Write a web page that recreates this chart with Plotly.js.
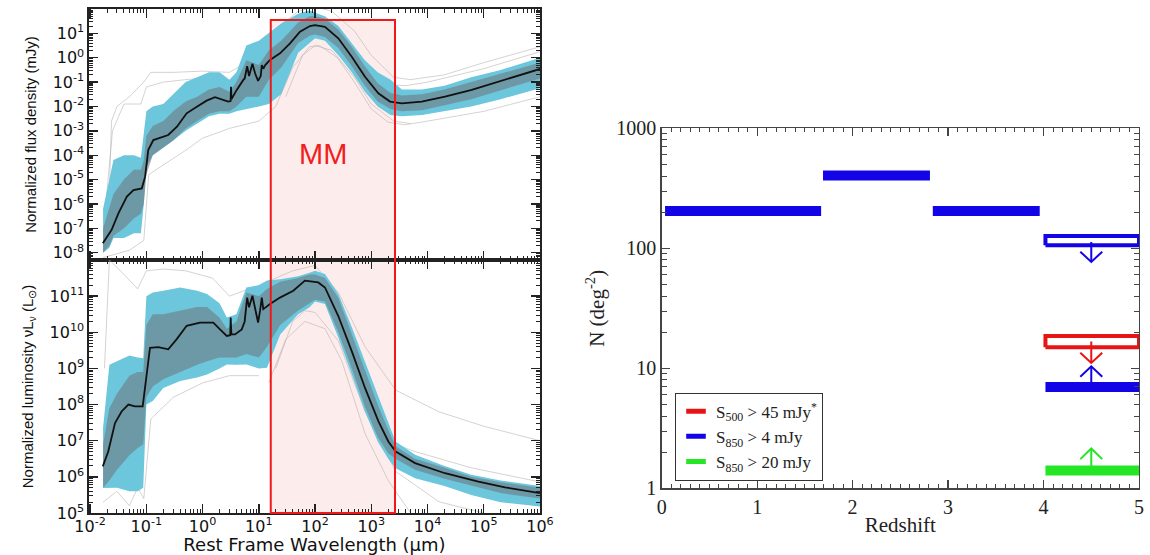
<!DOCTYPE html>
<html><head><meta charset="utf-8">
<script src="https://cdn.plot.ly/plotly-3.0.1.min.js"></script>
<style>html,body{margin:0;padding:0;background:#fff}#chart{width:1150px;height:555px}</style>
</head><body><div id="chart"></div>
<script>
// ================= LEFT PANELS: SED templates (wavelength in micron; values stored as log10) =================
// Top panel: normalized flux density (mJy) - median template
const wlFluxMedian = [0.0168,0.024,0.032,0.045,0.059,0.083,0.095,0.108,0.133,0.19,0.245,0.35,0.52,0.79,1.18,1.66,2.33,2.86,3.15,3.2,3.27,4.05,5.3,5.6,6.2,6.7,7.7,8.6,9.7,10.8,11.3,12,13,15.8,23.8,35.9,54,81,100,150,259,449,773,1334,2153,3475,7890,20460,61100,181600,412000,816000,1000000];
const fluxMedianLog = [-7.61,-7.07,-6.38,-5.70,-5.43,-5.36,-4.88,-3.79,-3.38,-3.24,-3.17,-2.83,-2.28,-2.01,-1.76,-1.62,-1.73,-1.80,-1.78,-1.19,-1.70,-1.32,-0.91,-0.85,-0.35,-0.75,-0.25,-0.65,-0.95,-0.75,-0.30,-0.45,-0.30,-0.09,0.18,0.59,1.07,1.30,1.34,1.27,0.80,0.04,-0.78,-1.46,-1.80,-1.87,-1.80,-1.60,-1.32,-0.98,-0.71,-0.50,-0.46];
// Top panel envelopes
const wlFluxBand = [0.017,0.022,0.026,0.04,0.06,0.08,0.09,0.1,0.13,0.2,0.3,0.5,0.8,1.3,2.0,3.0,4.0,6.0,10,15,25,50,80,100,150,260,450,770,1300,2200,3500,8000,2e4,6e4,2e5,1e6];
const fluxCyanUpLog = [-6.2,-5.0,-4.2,-4.0,-4.0,-4.1,-3.0,-2.2,-2.0,-1.9,-1.5,-1.0,-0.8,-0.6,-0.6,-0.9,-0.6,0.5,0.7,1.0,1.4,1.8,1.95,1.85,1.7,1.3,0.6,-0.1,-0.6,-0.9,-1.3,-1.3,-1.15,-0.8,-0.5,0.0];
const fluxCyanLoLog = [-8.0,-7.8,-7.4,-7.4,-7.2,-7.2,-6.0,-4.5,-4.0,-3.7,-3.4,-3.0,-2.7,-2.4,-2.3,-2.3,-2.2,-2.1,-2.0,-1.9,-1.5,0.2,0.6,0.8,0.7,0.1,-0.6,-1.4,-2.0,-2.35,-2.4,-2.35,-2.2,-2.0,-1.7,-1.25];
const fluxGrayUpLog = [-7.0,-6.2,-5.6,-5.0,-4.6,-4.6,-4.2,-3.2,-2.8,-2.6,-2.2,-1.8,-1.6,-1.3,-1.2,-1.4,-1.0,-0.1,-0.3,0.3,0.7,1.45,1.7,1.7,1.6,1.15,0.45,-0.35,-1.05,-1.45,-1.55,-1.5,-1.3,-1.0,-0.65,-0.2];
const fluxGrayLoLog = [-8.0,-7.7,-7.3,-7.0,-6.6,-6.4,-6.0,-4.8,-4.0,-3.7,-3.4,-2.9,-2.6,-2.3,-2.2,-2.2,-2.0,-1.6,-1.6,-0.9,-0.4,0.6,0.9,0.95,0.85,0.4,-0.35,-1.15,-1.8,-2.1,-2.2,-2.15,-1.95,-1.7,-1.35,-0.85];
// Top panel individual outlier templates
const wlFluxOut1 = [0.021,0.024,0.03,0.05,0.09,0.12,0.3,1,3,6,10,20,50,100,200,500,1000,2500,5000,2e4,1e5,1e6];
const fluxOut1Log = [-7.0,-2.6,-2.0,-1.6,-1.0,-0.6,-0.6,-0.55,-0.6,-0.2,0.5,1.2,1.9,2.1,1.9,1.1,0.1,-0.8,-0.9,-0.7,-0.2,0.45];
const wlFluxOut2 = [0.017,0.05,0.09,0.11,0.2,0.5,1,3,10,20,40,80,120,250,500,1000,2000,4000,1e4,1e5,1e6];
const fluxOut2Log = [-8.2,-7.9,-7.5,-4.8,-4.4,-3.8,-3.3,-2.9,-2.6,-2.0,-0.4,0.45,0.5,0.0,-1.0,-2.1,-2.65,-2.75,-2.6,-2.2,-1.6];
const wlFluxOut3 = [0.019,0.025,0.04,0.08,0.1,0.2,0.5,1.5,3,6];
const fluxOut3Log = [-6.0,-3.0,-1.9,-1.9,-1.2,-1.0,-0.9,-0.8,-1.0,-0.5];
const wlFluxOut4 = [2000,4000,1e4,1e5,1e6];
const fluxOut4Log = [-1.1,-1.15,-1.0,-0.45,0.25];
const wlFluxOut5 = [30,60,100,200,500,1000,2500,5000];
const fluxOut5Log = [-1.6,0.1,0.5,0.3,-0.8,-1.9,-2.6,-2.7];

// Bottom panel: normalized luminosity nuL_nu (L_sun) - median template
const wlLumMedian = [0.0168,0.021,0.0277,0.0363,0.0479,0.0628,0.0861,0.0986,0.116,0.163,0.245,0.347,0.521,0.9,1.55,2.04,2.69,3.1,3.16,3.25,3.77,4.97,5.6,6.2,6.7,7.7,8.6,9.7,10.5,11.3,12,15.8,23.8,41,66,114,150,259,449,773,1334,2009,2716,6000,20460,80200,238800,871000,1000000];
const lumMedianLog = [6.29,6.70,7.49,7.81,8.00,7.95,7.95,8.65,9.57,9.59,9.53,9.81,10.18,10.27,10.27,10.08,9.90,9.92,10.41,9.94,9.94,10.08,10.3,10.96,10.69,11.01,10.64,10.27,10.59,10.96,10.64,10.78,10.96,11.15,11.43,11.38,11.24,10.45,9.48,8.46,7.54,6.98,6.70,6.38,6.10,5.87,5.71,5.57,5.55];
const wlLumBand = [0.017,0.022,0.03,0.05,0.07,0.088,0.1,0.13,0.2,0.4,0.8,1.2,2.0,2.7,4.0,6.0,10,14,24,50,80,100,150,260,450,770,1300,2000,2700,6000,2e4,6e4,2e5,1e6];
const lumCyanUpLog = [7.36,9.1,9.2,9.36,9.3,9.28,11.0,11.1,11.15,11.24,11.15,11.06,10.8,10.41,10.5,11.24,11.3,11.43,11.47,11.55,11.65,11.7,11.61,11.06,10.14,9.2,8.28,7.5,6.98,6.61,6.3,6.06,5.9,5.75];
const lumCyanLoLog = [5.69,5.7,5.7,5.6,5.6,5.7,8.0,8.1,8.46,8.65,8.75,8.83,9.0,9.11,9.1,9.11,9.0,9.02,9.94,10.5,10.69,10.85,10.78,9.85,8.83,7.81,6.98,6.5,6.24,5.96,5.75,5.5,5.3,5.18];
const lumGrayUpLog = [6.9,7.9,8.3,8.8,8.9,8.9,10.2,10.5,10.5,10.6,10.7,10.7,10.4,10.1,10.3,11.1,11.0,11.2,11.4,11.5,11.6,11.6,11.5,10.95,9.95,8.95,8.0,7.3,6.85,6.5,6.25,6.0,5.85,5.7];
const lumGrayLoLog = [5.7,5.9,6.2,6.6,6.8,6.9,8.2,8.5,8.7,8.9,9.1,9.2,9.3,9.3,9.3,9.4,9.3,9.6,10.2,10.6,10.8,10.9,10.85,10.0,9.0,7.95,7.1,6.65,6.5,6.2,5.95,5.75,5.55,5.4];
const wlLumOut1 = [0.018,0.02,0.022,0.04,0.07,0.1,0.2,0.5,1.5,3,10,40,100,260,773,2716,16000,1e5,1e6];
const lumOut1Log = [9.0,10.5,12.0,11.6,11.2,11.7,11.75,11.7,11.5,11.0,11.3,11.7,11.85,11.1,9.6,8.4,7.8,7.4,7.0];
const wlLumOut2 = [2716,6000,6e4,1e6];
const lumOut2Log = [6.9,6.7,6.25,5.86];
const wlLumOut3 = [20,40,66,100,260,773,2716,16000,1e5];
const lumOut3Log = [9.0,10.3,10.6,10.55,9.76,7.81,6.15,5.31,5.0];
const wlLumOut4 = [15,30,66,150,300,773,2000,5000];
const lumOut4Log = [8.6,9.8,10.3,10.1,9.2,7.2,5.9,5.0];
const wlLumOut5 = [0.017,0.03,0.05,0.07,0.09,0.12,0.3,1,3,10];
const lumOut5Log = [5.3,5.6,5.2,5.7,5.4,7.6,8.2,8.6,8.8,8.8];

// Millimetre window (micron)
const mmBand = [16.3, 2640];

// Tick labels
const wlTickVals = [1e-2,1e-1,1e0,1e1,1e2,1e3,1e4,1e5,1e6];
const wlTickText = ['10<sup>-2</sup>','10<sup>-1</sup>','10<sup>0</sup>','10<sup>1</sup>','10<sup>2</sup>','10<sup>3</sup>','10<sup>4</sup>','10<sup>5</sup>','10<sup>6</sup>'];
const fluxTickVals = [1e-8,1e-7,1e-6,1e-5,1e-4,1e-3,1e-2,1e-1,1e0,1e1];
const fluxTickText = ['10<sup>-8</sup>','10<sup>-7</sup>','10<sup>-6</sup>','10<sup>-5</sup>','10<sup>-4</sup>','10<sup>-3</sup>','10<sup>-2</sup>','10<sup>-1</sup>','10<sup>0</sup>','10<sup>1</sup>'];
const lumTickVals = [1e5,1e6,1e7,1e8,1e9,1e10,1e11];
const lumTickText = ['10<sup>5</sup>','10<sup>6</sup>','10<sup>7</sup>','10<sup>8</sup>','10<sup>9</sup>','10<sup>10</sup>','10<sup>11</sup>'];

// ================= RIGHT PANEL: source counts vs redshift =================
const binZlo = [0.035, 1.69, 2.84];
const binZhi = [1.67, 2.81, 3.96];
const binN   = [205, 405, 205];
const hiZlo = 4.02, hiZhi = 5.0;
// S850 > 4 mJy at z>4: open box (upper limit) and filled bar (lower limit)
const blueBoxN = [106, 126.6];
const blueBarN = 7.0;
// S500 > 45 mJy: open box upper limit
const redBoxN = [15.0, 18.6];
// S850 > 20 mJy: filled bar lower limit
const greenBarN = 1.41;
// Arrows at z = 4.5 : start, tip, arm level
const arrowZ = 4.5;
const arrowColors = ['blue','red','blue','green'];
const arrowFrom = [113, 16.7, 7.0, 1.41];
const arrowTip  = [77, 11.1, 10.4, 2.15];
const arrowArm  = [93.7, 13.5, 8.5, 1.75];
const legendNames = ['S<sub>500</sub> > 45 mJy<sup>*</sup>','S<sub>850</sub> > 4 mJy','S<sub>850</sub> > 20 mJy'];

// ================= BUILD =================
const COL = {blue:'rgb(18,4,230)', red:'rgb(232,20,20)', green:'rgb(36,230,36)'};
const CYAN = 'rgb(108,198,220)';
const GRAYB = 'rgba(112,114,120,0.55)';
const OUT = 'rgba(175,165,165,0.5)';
const lin = a => a.map(v => Math.pow(10, v));
const traces = [];

function band(wl, up, lo, color, xa, ya) {
  traces.push({x: wl.concat(wl.slice().reverse()), y: lin(up).concat(lin(lo).reverse()),
    xaxis: xa, yaxis: ya, type:'scatter', mode:'lines', fill:'toself', fillcolor:color,
    line:{width:0}, hoverinfo:'skip', showlegend:false});
}
function curve(wl, v, color, w, xa, ya) {
  traces.push({x: wl, y: lin(v), xaxis: xa, yaxis: ya, type:'scatter', mode:'lines',
    line:{color:color, width:w}, hoverinfo:'skip', showlegend:false});
}
// top panel
[[wlFluxOut1,fluxOut1Log],[wlFluxOut2,fluxOut2Log],[wlFluxOut3,fluxOut3Log],[wlFluxOut4,fluxOut4Log],[wlFluxOut5,fluxOut5Log]]
  .forEach(p => curve(p[0], p[1], OUT, 1, 'x', 'y'));
band(wlFluxBand, fluxCyanUpLog, fluxCyanLoLog, CYAN, 'x', 'y');
band(wlFluxBand, fluxGrayUpLog, fluxGrayLoLog, GRAYB, 'x', 'y');
curve(wlFluxMedian, fluxMedianLog, '#111', 1.8, 'x', 'y');
// bottom panel
[[wlLumOut1,lumOut1Log],[wlLumOut2,lumOut2Log],[wlLumOut3,lumOut3Log],[wlLumOut4,lumOut4Log],[wlLumOut5,lumOut5Log]]
  .forEach(p => curve(p[0], p[1], OUT, 1, 'x2', 'y2'));
band(wlLumBand, lumCyanUpLog, lumCyanLoLog, CYAN, 'x2', 'y2');
band(wlLumBand, lumGrayUpLog, lumGrayLoLog, GRAYB, 'x2', 'y2');
curve(wlLumMedian, lumMedianLog, '#111', 1.8, 'x2', 'y2');

// right panel bars
function seg(x, y, color, w) {
  traces.push({x: x, y: y, xaxis:'x3', yaxis:'y3', type:'scatter', mode:'lines',
    line:{color: color, width: w}, hoverinfo:'skip', showlegend:false, cliponaxis:true});
}
binN.forEach((n, i) => seg([binZlo[i], binZhi[i]], [n, n], COL.blue, 10));
seg([hiZlo, hiZhi], [blueBarN, blueBarN], COL.blue, 10);
seg([hiZlo, hiZhi], [greenBarN, greenBarN], COL.green, 10);
seg([hiZlo, hiZhi, hiZhi, hiZlo, hiZlo], [blueBoxN[0], blueBoxN[0], blueBoxN[1], blueBoxN[1], blueBoxN[0]], COL.blue, 4);
seg([hiZlo, hiZhi, hiZhi, hiZlo, hiZlo], [redBoxN[0], redBoxN[0], redBoxN[1], redBoxN[1], redBoxN[0]], COL.red, 4);
arrowFrom.forEach((f, i) => {
  const c = COL[arrowColors[i]];
  seg([arrowZ, arrowZ], [f, arrowTip[i]], c, 2);
  seg([arrowZ - 0.115, arrowZ, arrowZ + 0.115], [arrowArm[i], arrowTip[i], arrowArm[i]], c, 2);
});
// legend entries
['red','blue','green'].forEach((k, i) => {
  traces.push({x:[null], y:[null], xaxis:'x3', yaxis:'y3', type:'scatter', mode:'markers', name: legendNames[i],
    marker:{symbol:'line-ew', size:14, line:{color: COL[k], width:6}, color: COL[k]}, showlegend:true});
});

const AX = '#222';
const leftFont = {family:'DejaVu Sans', size:16, color:'#111'};
function logAxis(extra) {
  return Object.assign({type:'log', showline:true, linecolor:AX, linewidth:1.6, mirror:'allticks',
    ticks:'inside', ticklen:9, tickwidth:1.4, tickcolor:AX, showgrid:false, zeroline:false,
    tickmode:'array', tickfont:leftFont,
    minor:{ticks:'inside', ticklen:4, tickwidth:1, tickcolor:AX, dtick:'D1', showgrid:false}}, extra);
}
const LX = [89/1150, 540/1150];
const TY = [1-260/555, 1-9/555];
const BY = [1-513/555, 1-260/555];
const RX = [661.7/1150, 1139/1150];
const RY = [1-488.3/555, 1-128.3/555];
const serif = {family:'Liberation Serif', size:20, color:'#222'};

const layout = {
  width:1150, height:555, margin:{l:0,r:0,t:0,b:0}, paper_bgcolor:'#fff', plot_bgcolor:'rgba(0,0,0,0)',
  showlegend:true,
  xaxis: logAxis({domain:LX, range:[-2.02,6], anchor:'y', tickvals:wlTickVals, ticktext:wlTickText, showticklabels:false}),
  yaxis: logAxis({domain:TY, range:[-8.3,2.0], anchor:'x', tickvals:fluxTickVals, ticktext:fluxTickText,
    title:{text:'Normalized flux density (mJy)', font:{family:'Liberation Sans', size:15, color:'#111'}, standoff:12}}),
  xaxis2: logAxis({domain:LX, range:[-2.02,6], anchor:'y2', tickvals:wlTickVals, ticktext:wlTickText, ticklabelstandoff:-2,
    title:{text:'Rest Frame Wavelength (μm)', font:{family:'DejaVu Sans', size:18, color:'#111'}, standoff:9}}),
  yaxis2: logAxis({domain:BY, range:[5.0,12.0], anchor:'x2', tickvals:lumTickVals, ticktext:lumTickText,
    title:{text:'Normalized luminosity νL<sub>ν</sub> (L<sub>⊙</sub>)', font:{family:'Liberation Sans', size:15, color:'#111'}, standoff:12}}),
  xaxis3: {domain:RX, anchor:'y3', range:[0,5], dtick:1, tick0:0, showline:true, linecolor:'#444', linewidth:1.4, mirror:'allticks',
    ticks:'inside', ticklen:8, tickwidth:1.2, tickcolor:'#444', showgrid:false, zeroline:false, tickfont:serif,
    minor:{ticks:'inside', ticklen:4, tickwidth:1, tickcolor:'#444', dtick:0.1, showgrid:false},
    title:{text:'Redshift', font:{family:'Liberation Serif', size:21, color:'#222'}, standoff:0}},
  yaxis3: {domain:RY, anchor:'x3', type:'log', range:[0,3], showline:true, linecolor:'#444', linewidth:1.4, mirror:'allticks',
    ticks:'inside', ticklen:8, tickwidth:1.2, tickcolor:'#444', showgrid:false, zeroline:false, tickfont:serif,
    tickmode:'array', tickvals:[1,10,100,1000], ticktext:['1','10','100','1000'],
    minor:{ticks:'inside', ticklen:5, tickwidth:1, tickcolor:'#444', dtick:'D1', showgrid:false},
    title:{text:'N (deg<sup>-2</sup>)', font:{family:'Liberation Serif', size:21, color:'#222'}, standoff:6}},
  legend:{x:675/1150, y:1-392.7/555, xanchor:'left', yanchor:'top', bordercolor:'#333', borderwidth:1, bgcolor:'#fff',
    font:{family:'Liberation Serif', size:17, color:'#222'}, itemwidth:30, tracegroupgap:0},
  shapes:[
    {type:'rect', xref:'x', yref:'paper', x0:mmBand[0], x1:mmBand[1], y0:1-513/555, y1:1-20/555,
     fillcolor:'#fcedec', line:{width:0}, layer:'below'},
    {type:'rect', xref:'x', yref:'paper', x0:mmBand[0], x1:mmBand[1], y0:1-513/555, y1:1-20/555,
     fillcolor:'rgba(0,0,0,0)', line:{color:'rgb(240,25,25)', width:2}, layer:'above'}
  ],
  annotations:[
    {text:'MM', xref:'paper', yref:'paper', x:323.5/1150, y:1-154/555, xanchor:'center', yanchor:'middle', showarrow:false,
     font:{family:'Liberation Sans', size:29, color:'rgb(240,30,30)'}}
  ]
};
Plotly.newPlot('chart', traces, layout, {staticPlot:true, displayModeBar:false});
</script>
</body></html>
